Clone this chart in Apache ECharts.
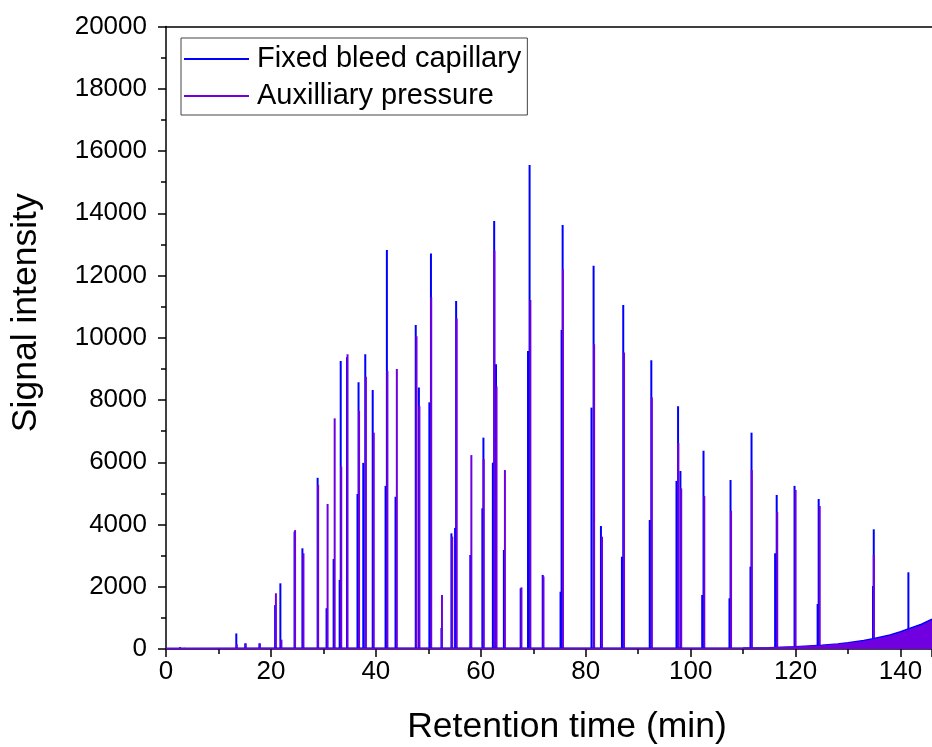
<!DOCTYPE html>
<html>
<head>
<meta charset="utf-8">
<script src="https://cdn.jsdelivr.net/npm/echarts@6/dist/echarts.min.js"></script>
<style>
html,body{margin:0;padding:0;background:#fff;}
#chart{width:932px;height:747px;}
</style>
</head>
<body>
<div id="chart"></div>
<script>
// Peak apex times (min) and heights
const blueTimes = [2.7, 13.4, 15.1, 17.8, 20.8, 21.8, 24.5, 26.0, 28.9, 30.6, 31.95, 33.1, 33.3, 34.5, 36.5, 36.7, 37.6, 37.98, 39.4, 41.85, 42.1, 43.75, 47.6, 48.2, 50.2, 50.5, 52.5, 54.4, 55.1, 55.3, 58.0, 60.3, 60.5, 62.3, 62.55, 62.9, 64.4, 67.6, 69.0, 69.3, 71.8, 75.2, 75.4, 75.6, 81.1, 81.5, 82.9, 86.9, 87.15, 92.2, 92.5, 97.3, 97.6, 98.05, 102.2, 102.45, 107.4, 107.6, 111.4, 111.6, 116.1, 116.4, 119.8, 124.2, 124.4, 134.75, 134.9, 141.5];
const blueHeights = [60, 500, 180, 180, 1410, 2110, 3770, 3235, 5500, 1310, 2890, 2220, 9250, 9370, 4980, 8570, 5980, 9470, 8320, 5240, 12820, 4890, 10410, 8400, 7925, 12710, 675, 3715, 3890, 11180, 3020, 4520, 6790, 5985, 13750, 9150, 3180, 1950, 9575, 15550, 2380, 1840, 10250, 13620, 7755, 12310, 3950, 2965, 11050, 4145, 9280, 5400, 7800, 5720, 1735, 6370, 1630, 5430, 2645, 6950, 3075, 4950, 5240, 1445, 4820, 2025, 3845, 2465];

const purpleTimes = [3.5, 13.5, 15.2, 17.9, 20.95, 22.0, 24.6, 26.2, 29.0, 30.8, 32.15, 33.4, 34.6, 36.8, 38.1, 39.6, 42.2, 44.0, 47.75, 48.3, 50.55, 52.6, 54.55, 55.4, 58.2, 60.55, 62.6, 63.0, 64.6, 67.75, 69.45, 71.95, 75.65, 81.6, 83.1, 87.3, 92.6, 97.65, 98.2, 102.6, 107.7, 111.65, 116.5, 120.0, 124.6, 134.9];
const purpleHeights = [40, 150, 180, 180, 1790, 300, 3820, 3075, 5270, 4660, 7410, 5860, 9470, 7650, 8750, 6950, 8930, 9000, 10050, 7800, 11300, 1735, 3610, 10620, 6230, 6100, 12800, 8430, 5750, 1980, 11210, 2330, 12200, 9790, 3610, 9530, 8080, 6620, 5160, 4915, 4440, 5750, 4400, 5110, 4595, 3020];

// Rising baseline at the end of the run
const baseTimes = [0, 20, 40, 60, 80, 100, 110, 115, 120, 125, 128, 130, 133, 135, 138, 140, 142, 144, 146];
const baseBlue = [20, 25, 25, 25, 25, 25, 30, 40, 75, 120, 160, 200, 270, 340, 450, 555, 680, 800, 960];
const basePurple = [15, 20, 20, 20, 20, 20, 25, 30, 60, 100, 135, 170, 235, 300, 405, 505, 625, 740, 900];

const xTicks = [0, 20, 40, 60, 80, 100, 120, 140];
const yTicks = [0, 2000, 4000, 6000, 8000, 10000, 12000, 14000, 16000, 18000, 20000];

const BLUE = '#0000ff';
const PURPLE = '#7000e0';
const FONT = '"Liberation Sans", Arial, sans-serif';

const zip = (a, b) => a.map((v, i) => [v, b[i]]);

const chart = echarts.init(document.getElementById('chart'), null, {renderer: 'canvas'});
chart.setOption({
  animation: false,
  backgroundColor: '#ffffff',
  grid: {left: 166, right: 0, top: 26.5, bottom: 98, containLabel: false, outerBoundsMode: 'none'},
  legend: {
    left: 181, top: 38,
    orient: 'vertical',
    backgroundColor: '#fff',
    borderColor: '#444', borderWidth: 1,
    padding: [6, 6, 4, 3],
    itemWidth: 65, itemHeight: 2, itemGap: 7,
    icon: 'rect',
    textStyle: {fontFamily: FONT, fontSize: 29, color: '#000', lineHeight: 30, padding: [0, 0, 0, 3]},
    data: ['Fixed bleed capillary', 'Auxilliary pressure']
  },
  xAxis: [{
    type: 'value', min: 0, max: 146, interval: 20,
    name: 'Retention time (min)', nameLocation: 'middle', nameGap: 60,
    nameTextStyle: {fontFamily: FONT, fontSize: 35.5, color: '#000', padding: [0, 0, 0, 36]},
    axisLine: {show: true, onZero: false, lineStyle: {color: '#000', width: 1.5}},
    axisTick: {show: true, inside: false, length: 8, lineStyle: {color: '#000', width: 1.5}},
    minorTick: {show: true, splitNumber: 2, length: 5, lineStyle: {color: '#000', width: 1.5}},
    axisLabel: {fontFamily: FONT, fontSize: 26, color: '#000', margin: 10,
      formatter: v => xTicks.includes(v) ? String(v) : ''},
    splitLine: {show: false}
  }, {
    type: 'value', position: 'top', min: 0, max: 146,
    axisLine: {show: true, onZero: false, lineStyle: {color: '#000', width: 1.5}},
    axisTick: {show: false}, axisLabel: {show: false}, splitLine: {show: false}
  }],
  yAxis: {
    type: 'value', min: 0, max: 20000, interval: 2000,
    name: 'Signal intensity', nameLocation: 'middle', nameGap: 122,
    nameTextStyle: {fontFamily: FONT, fontSize: 35.5, color: '#000', padding: [0, 0, 0, 50]},
    axisLine: {show: true, lineStyle: {color: '#000', width: 1.5}},
    axisTick: {show: true, inside: false, length: 8, lineStyle: {color: '#000', width: 1.5}},
    minorTick: {show: true, splitNumber: 2, length: 5, lineStyle: {color: '#000', width: 1.5}},
    axisLabel: {fontFamily: FONT, fontSize: 26, color: '#000', margin: 19,
      formatter: v => yTicks.includes(v) ? String(v) : ''},
    splitLine: {show: false}
  },
  series: [
    {
      name: 'Fixed bleed capillary', type: 'bar', barWidth: 2,
      itemStyle: {color: BLUE}, large: false,
      data: zip(blueTimes, blueHeights), z: 2
    },
    {
      name: 'Auxilliary pressure', type: 'bar', barWidth: 2, barGap: '-100%',
      itemStyle: {color: PURPLE}, large: false,
      data: zip(purpleTimes, purpleHeights), z: 3
    },
    {
      name: 'Fixed bleed capillary', type: 'line', symbol: 'none', silent: true,
      lineStyle: {color: BLUE, width: 1.5}, itemStyle: {color: BLUE},
      areaStyle: {color: BLUE, opacity: 1},
      data: zip(baseTimes, baseBlue), z: 4
    },
    {
      name: 'Auxilliary pressure', type: 'line', symbol: 'none', silent: true,
      lineStyle: {color: PURPLE, width: 1.5}, itemStyle: {color: PURPLE},
      areaStyle: {color: PURPLE, opacity: 1},
      data: zip(baseTimes, basePurple), z: 5
    }
  ]
});
</script>
</body>
</html>
